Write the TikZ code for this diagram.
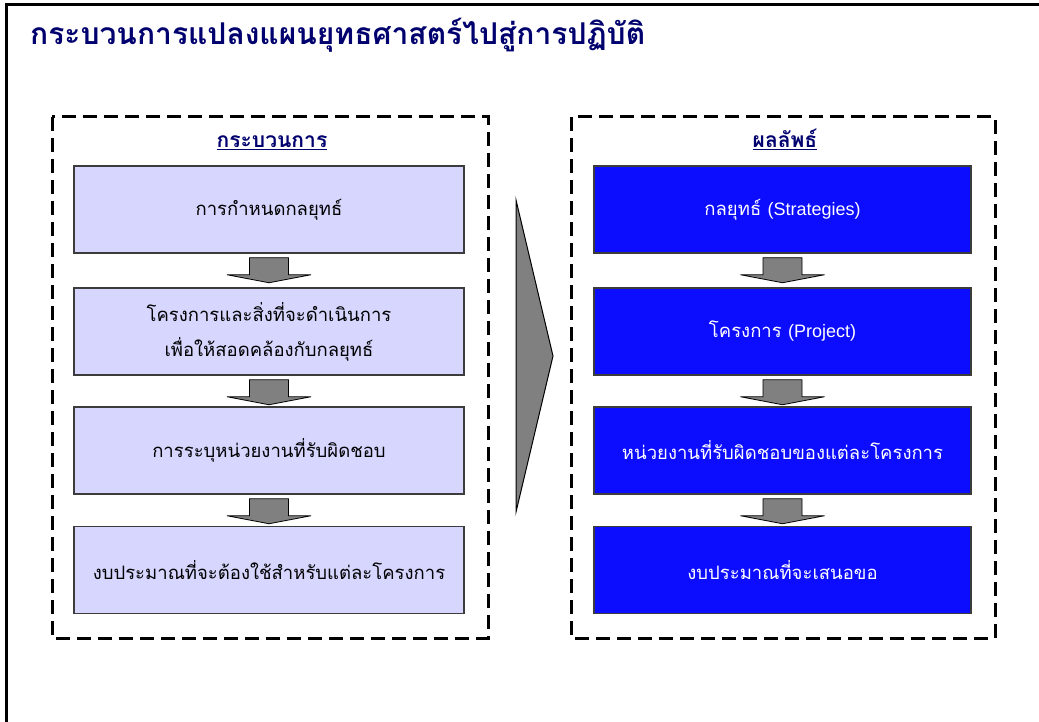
\documentclass[tikz,border=0pt]{standalone}
\usepackage{fontspec}
\setmainfont{Liberation Sans}
\newfontfamily\thai[Script=Thai]{Loma}
\newfontfamily\lat{Liberation Sans}
\usetikzlibrary{calc}
\definecolor{navy}{RGB}{0,0,110}
\definecolor{lav}{RGB}{214,214,255}
\definecolor{bblue}{RGB}{12,12,255}
\definecolor{bord}{RGB}{60,60,60}
\definecolor{arrgray}{RGB}{128,128,128}
\tikzset{
  dashbox/.style={draw=black, line width=3pt, dash pattern=on 14pt off 7pt},
  lbox/.style={draw=bord, line width=1.5pt, fill=lav, minimum width=390pt, minimum height=87pt, inner sep=0pt, align=center, font=\thai\fontsize{18.5}{35}\selectfont, text=black},
  rbox/.style={draw=bord, line width=1.5pt, fill=bblue, minimum width=377pt, minimum height=87pt, inner sep=0pt, align=center, font=\thai\fontsize{18.5}{35}\selectfont, text=white},
  heading/.style={font=\thai\bfseries\fontsize{21}{24}\selectfont, text=navy, inner sep=0pt},
  blockarr/.pic={\draw[fill=arrgray, draw=black, line width=0.8pt] (-19.5,0) -- (19.5,0) -- (19.5,17) -- (42,17) -- (0,25) -- (-42,17) -- (-19.5,17) -- cycle;}
}
\newcommand\latxt[1]{{\lat\fontsize{18}{22}\selectfont #1}}
\begin{document}
\begin{tikzpicture}[x=1pt,y=-1pt]
\useasboundingbox (0,0) rectangle (1039,722);
% outer frame (top and left edges)
\draw[line width=3pt] (6,722) -- (6,5) -- (1039,5);
% title
\node[anchor=base west, font=\thai\bfseries\fontsize{30}{34}\selectfont, text=navy, inner sep=0pt] (title) at (30,45) {กระบวนการแปลงแผนยุทธศาสตร์ไปสู่การปฏิบัติ};
% dashed frames
\draw[dashbox] (52,117) rectangle (488,638);
\draw[dashbox] (571,117) rectangle (995,638);
% headings
\node[heading, anchor=base] (lh) at (272,148) {\underline{กระบวนการ}};
\node[heading, anchor=base] (rh) at (785,148) {\underline{ผลลัพธ์}};
% left boxes
\node[lbox] (l1) at (269,209.5) {การกำหนดกลยุทธ์};
\node[lbox] (l2) at (269,331.5) {โครงการและสิ่งที่จะดำเนินการ\\เพื่อให้สอดคล้องกับกลยุทธ์};
\node[lbox] (l3) at (269,450.5) {การระบุหน่วยงานที่รับผิดชอบ};
\node[lbox] (l4) at (269,570) {งบประมาณที่จะต้องใช้สำหรับแต่ละโครงการ};
% right boxes
\node[rbox] (r1) at (782.5,209.5) {กลยุทธ์ \latxt{(Strategies)}};
\node[rbox] (r2) at (782.5,331.5) {โครงการ \latxt{(Project)}};
\node[rbox] (r3) at (782.5,450.5) {หน่วยงานที่รับผิดชอบของแต่ละโครงการ};
\node[rbox] (r4) at (782.5,570) {งบประมาณที่จะเสนอขอ};
% block arrows
\pic at ($(l1.south)+(0,4)$) {blockarr};
\pic at ($(l2.south)+(0,4)$) {blockarr};
\pic at ($(l3.south)+(0,4)$) {blockarr};
\pic at ($(r1.south)+(0,4)$) {blockarr};
\pic at ($(r2.south)+(0,4)$) {blockarr};
\pic at ($(r3.south)+(0,4)$) {blockarr};
% big chevron
\coordinate (ct) at (516,200);
\coordinate (cp) at (553,356);
\coordinate (cb) at (516,512);
\draw[fill=arrgray, draw=black, line width=1pt] (ct) -- (cp) -- (cb) -- cycle;
\end{tikzpicture}
\end{document}
